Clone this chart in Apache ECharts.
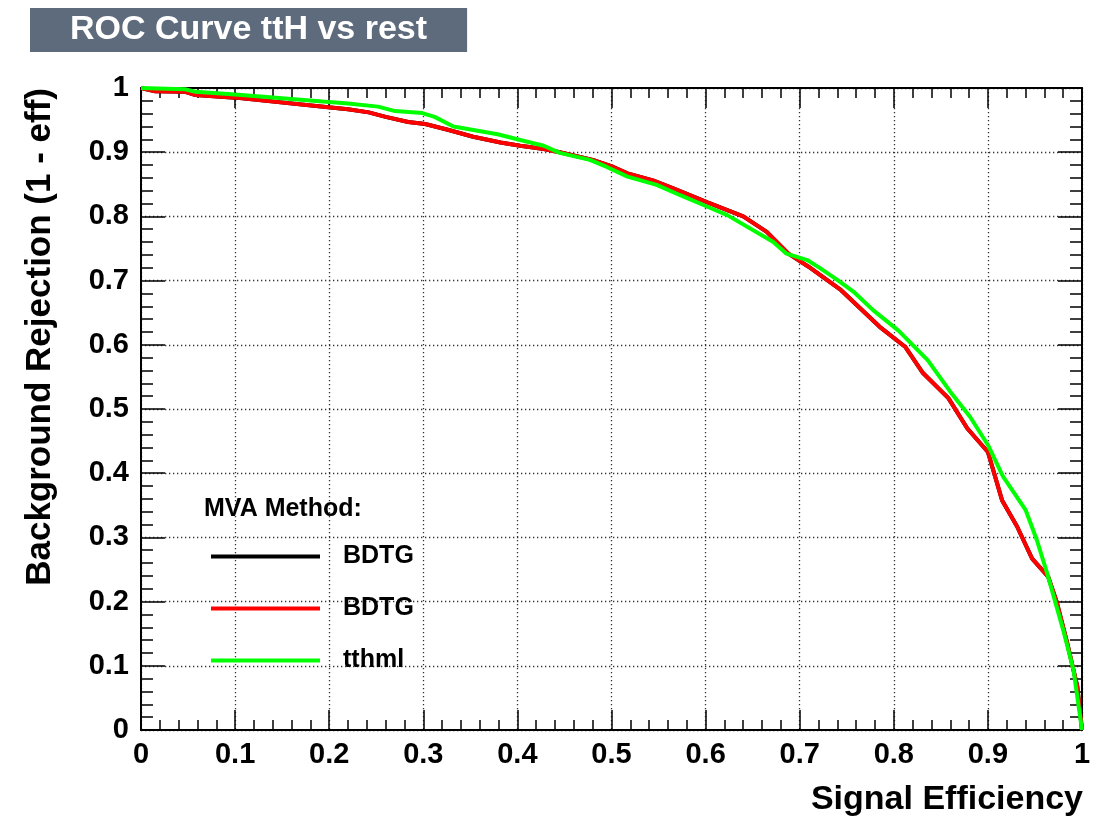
<!DOCTYPE html>
<html>
<head>
<meta charset="utf-8">
<script src="https://cdn.jsdelivr.net/npm/echarts@6/dist/echarts.min.js"></script>
<style>
html,body{margin:0;padding:0;background:#fff;}
#chart{width:1103px;height:821px;}
</style>
</head>
<body>
<div id="chart"></div>
<script>
// ---- Data ----
const chartTitle = 'ROC Curve ttH vs rest';
const xAxisTitle = 'Signal Efficiency';
const yAxisTitle = 'Background Rejection (1 - eff)';
const legendTitle = 'MVA Method:';
const seriesNames = ['BDTG', 'BDTG ', 'tthml'];

const sigEffBDTG = [0, 0.015, 0.047, 0.058, 0.100, 0.199, 0.220, 0.242, 0.260, 0.284,
  0.302, 0.326, 0.353, 0.382, 0.403, 0.428, 0.445, 0.480, 0.502, 0.517,
  0.544, 0.565, 0.602, 0.640, 0.665, 0.688, 0.709, 0.744, 0.785, 0.812,
  0.831, 0.858, 0.878, 0.900, 0.915, 0.931, 0.947, 0.964, 0.973, 0.984,
  0.995, 1.0];
const bkgRejBDTG = [1.0, 0.995, 0.994, 0.989, 0.985, 0.970, 0.967, 0.962, 0.955, 0.947,
  0.944, 0.935, 0.924, 0.915, 0.910, 0.905, 0.900, 0.888, 0.877, 0.867,
  0.856, 0.844, 0.822, 0.800, 0.776, 0.742, 0.722, 0.685, 0.628, 0.597,
  0.556, 0.517, 0.470, 0.433, 0.358, 0.317, 0.267, 0.239, 0.200, 0.137,
  0.068, 0];

const sigEffTthml = [0, 0.047, 0.058, 0.100, 0.193, 0.220, 0.252, 0.270, 0.299, 0.312,
  0.332, 0.379, 0.403, 0.428, 0.445, 0.477, 0.495, 0.517, 0.548, 0.573,
  0.602, 0.623, 0.672, 0.686, 0.708, 0.722, 0.740, 0.757, 0.778, 0.805,
  0.836, 0.860, 0.881, 0.900, 0.916, 0.940, 0.952, 0.963, 0.980, 0.991, 1.0];
const bkgRejTthml = [1.0, 0.998, 0.994, 0.990, 0.979, 0.976, 0.971, 0.964, 0.961, 0.955,
  0.940, 0.928, 0.919, 0.910, 0.899, 0.888, 0.877, 0.862, 0.849, 0.833,
  0.815, 0.802, 0.760, 0.742, 0.732, 0.719, 0.701, 0.683, 0.654, 0.622,
  0.576, 0.527, 0.488, 0.444, 0.395, 0.343, 0.296, 0.244, 0.156, 0.093, 0];

const FONT = "'Liberation Sans', Arial, Helvetica, sans-serif";
const zip = (xs, ys) => xs.map((x, i) => [x, ys[i]]);
const fmt = v => (v === 0 || v === 1) ? String(v) : v.toFixed(1);

const chart = echarts.init(document.getElementById('chart'), null, {renderer: 'canvas'});

const tickStyle = {color: '#000', width: 1.5};
function makeAxis(extra) {
  return Object.assign({
    type: 'value', min: 0, max: 1, interval: 0.1,
    axisLine: {show: true, onZero: false, lineStyle: {color: '#000', width: 2}},
    axisTick: {show: true, inside: true, length: 20, lineStyle: tickStyle},
    minorTick: {show: true, splitNumber: 5, length: 10, lineStyle: tickStyle},
    splitLine: {show: false},
    axisLabel: {show: false}
  }, extra);
}
const gridLine = {show: true, lineStyle: {color: '#333', width: 1.3, type: [1.3, 2.7]}};
const labelStyle = {show: true, color: '#000', fontFamily: FONT, fontWeight: 'bold', fontSize: 29, formatter: fmt};

chart.setOption({
  animation: false,
  backgroundColor: '#fff',
  title: [{
    text: chartTitle,
    left: 30, top: 8,
    backgroundColor: '#5e6b7c',
    padding: [4, 40, 4, 40],
    textStyle: {color: '#fff', fontFamily: FONT, fontWeight: 'bold', fontSize: 34, lineHeight: 36}
  }, {
    text: legendTitle,
    left: 204, top: 497,
    padding: 0,
    textStyle: {color: '#000', fontFamily: FONT, fontWeight: 'bold', fontSize: 25}
  }],
  grid: {left: 141, right: 21, top: 88, bottom: 91, containLabel: false},
  xAxis: [
    makeAxis({position: 'bottom', splitLine: gridLine,
      axisLabel: Object.assign({}, labelStyle, {margin: 10})}),
    makeAxis({position: 'top'})
  ],
  yAxis: [
    makeAxis({position: 'left', splitLine: gridLine,
      axisTick: {show: true, inside: true, length: 24, lineStyle: tickStyle},
      minorTick: {show: true, splitNumber: 5, length: 12, lineStyle: tickStyle},
      axisLabel: Object.assign({}, labelStyle, {margin: 12})}),
    makeAxis({position: 'right',
      axisTick: {show: true, inside: true, length: 24, lineStyle: tickStyle},
      minorTick: {show: true, splitNumber: 5, length: 12, lineStyle: tickStyle}})
  ],
  legend: {
    show: true, orient: 'vertical',
    left: 211, top: 544, padding: 0,
    itemWidth: 109, itemHeight: 4, itemGap: 27,
    icon: 'rect',
    data: seriesNames,
    formatter: n => n.trim(),
    selectedMode: false,
    textStyle: {color: '#000', fontFamily: FONT, fontWeight: 'bold', fontSize: 25, padding: [0, 0, 0, 18]}
  },
  graphic: [{
    type: 'text', x: 1083, y: 800,
    style: {text: xAxisTitle, fill: '#000', font: 'bold 34px ' + FONT, align: 'right', verticalAlign: 'middle', textAlign: 'right', textVerticalAlign: 'middle'}
  }, {
    type: 'text', x: 40, y: 88, rotation: Math.PI / 2,
    style: {text: yAxisTitle, fill: '#000', font: 'bold 35px ' + FONT, align: 'right', verticalAlign: 'middle', textAlign: 'right', textVerticalAlign: 'middle'}
  }],
  series: [{
    name: seriesNames[0], type: 'line', data: zip(sigEffBDTG, bkgRejBDTG),
    showSymbol: false, symbol: 'none', itemStyle: {color: '#000'},
    lineStyle: {color: '#000', width: 4}, z: 3
  }, {
    name: seriesNames[1], type: 'line', data: zip(sigEffBDTG, bkgRejBDTG),
    showSymbol: false, symbol: 'none', itemStyle: {color: '#ff0000'},
    lineStyle: {color: '#ff0000', width: 4}, z: 4
  }, {
    name: seriesNames[2], type: 'line', data: zip(sigEffTthml, bkgRejTthml),
    showSymbol: false, symbol: 'none', itemStyle: {color: '#00ff00'},
    lineStyle: {color: '#00ff00', width: 4}, z: 5
  }]
});
</script>
</body>
</html>
